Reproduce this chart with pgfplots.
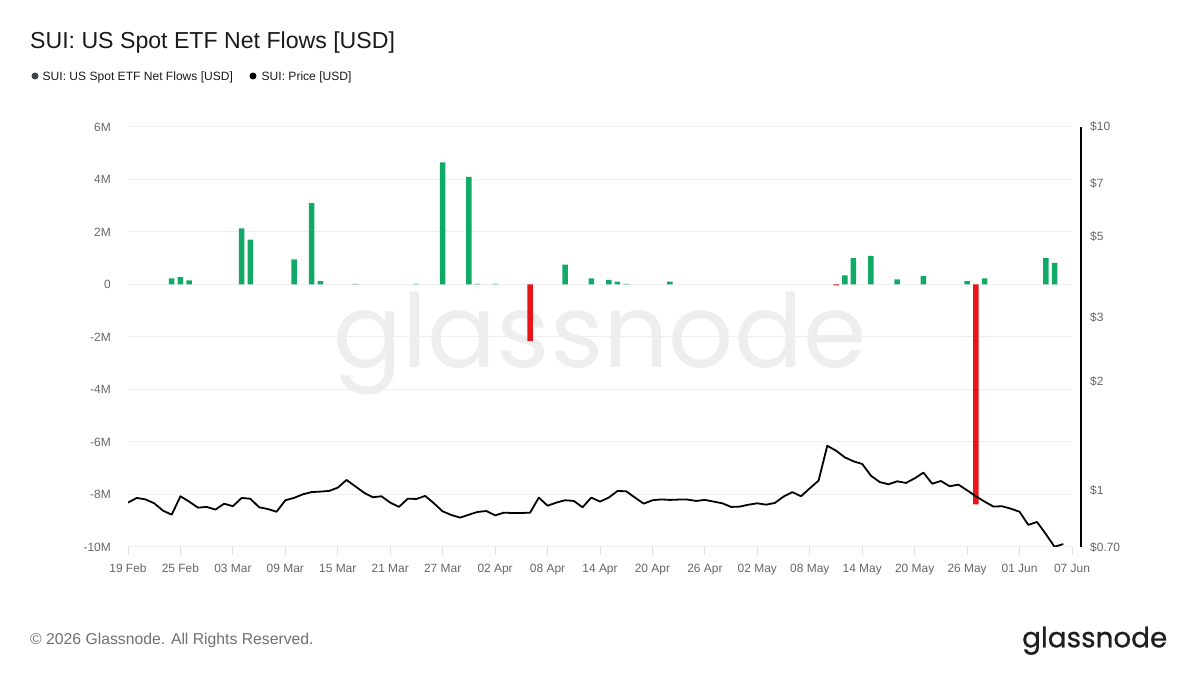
\documentclass[border=0pt]{standalone}
\usepackage{pgfplots}
\pgfplotsset{compat=1.18}
\usepackage{fontspec}
\setmainfont{Liberation Sans}
\newfontfamily\popfont{Poppins}
\newfontfamily\poplogo{Poppins}[FakeBold=0.8]
\definecolor{flowgreen}{RGB}{16,170,102}
\definecolor{flowred}{RGB}{232,20,24}
\definecolor{lblgray}{RGB}{102,102,102}
\definecolor{gridc}{RGB}{238,238,238}
\definecolor{tickc}{RGB}{222,222,222}
\definecolor{wmark}{RGB}{238,238,238}
\definecolor{dotgray}{RGB}{60,66,78}
\definecolor{titlec}{RGB}{26,26,26}
\definecolor{footc}{RGB}{112,112,112}
\definecolor{logoc}{RGB}{30,30,30}
\begin{document}
\begin{tikzpicture}[x=1bp,y=1bp]
\path[use as bounding box] (0,0) rectangle (1200,675);
% watermark
\node[anchor=base, inner sep=0pt, text=wmark] at (600,307) {\resizebox{532bp}{!}{\popfont glassnode}};
% title
\node[anchor=base west, inner sep=0pt, text=titlec] at (30,626.7) {\fontsize{23.2}{28}\selectfont SUI: US Spot ETF Net Flows [USD]};
% legend
\fill[dotgray] (35,599) circle (3.5);
\node[anchor=base west, inner sep=0pt, text=titlec] at (42.5,594.8) {\fontsize{12.1}{14}\selectfont SUI: US Spot ETF Net Flows [USD]};
\fill[black] (253,599) circle (3.5);
\node[anchor=base west, inner sep=0pt, text=titlec] at (261.5,594.8) {\fontsize{12.1}{14}\selectfont SUI: Price [USD]};
% footer
\node[anchor=base west, inner sep=0pt, text=footc] at (30,30.5) {\fontsize{15.8}{18}\selectfont \textcopyright{} 2026 Glassnode. All Rights Reserved.};
\node[anchor=base west, inner sep=0pt, text=logoc] at (1022,27.7) {\resizebox{145bp}{!}{\poplogo glassnode}};

\begin{axis}[
  at={(128bp,128bp)}, anchor=south west,
  width=944bp, height=420bp, scale only axis,
  xmin=0, xmax=108, ymin=-10, ymax=6,
  axis line style={draw=none},
  ymajorgrids, grid style={gridc, line width=1bp},
  ytick={-10,-8,-6,-4,-2,0,2,4,6},
  yticklabels={-10M,-8M,-6M,-4M,-2M,0,2M,4M,6M},
  xtick={0,6,...,108},
  xticklabels={19 Feb,25 Feb,03 Mar,09 Mar,15 Mar,21 Mar,27 Mar,02 Apr,08 Apr,14 Apr,20 Apr,26 Apr,02 May,08 May,14 May,20 May,26 May,01 Jun,07 Jun},
  xtick pos=bottom, xtick align=outside,
  major tick length=8bp,
  x tick style={tickc, line width=1bp},
  y tick style={draw=none},
  tick label style={font=\fontsize{12}{14}\selectfont, text=lblgray},
  yticklabel style={inner sep=0pt, xshift=-17bp},
  xticklabel style={inner sep=0pt, yshift=-9bp},
]
\addplot[ybar, bar width=5.5bp, bar shift=0pt, fill=flowgreen, draw=none] coordinates {
(5,0.23) (6,0.28) (7,0.16) (13,2.14) (14,1.71) (19,0.96) (21,3.1) (22,0.13)
(26,0.02) (33,0.02) (36,4.65) (39,4.1) (40,0.02) (42,0.02) (50,0.76) (53,0.23)
(55,0.18) (56,0.11) (57,0.02) (62,0.11) (82,0.35) (83,1.0) (85,1.09) (88,0.19)
(91,0.33) (96,0.13) (98,0.23) (105,1.0) (106,0.82)
};
\addplot[ybar, bar width=5.5bp, bar shift=0pt, fill=flowred, draw=none] coordinates {
(46,-2.15) (81,-0.03) (97,-8.38)
};
\end{axis}

\begin{axis}[
  at={(128bp,128bp)}, anchor=south west,
  width=944bp, height=420bp, scale only axis,
  xmin=0, xmax=108, ymode=log, ymin=0.7, ymax=10,
  axis x line=none, axis y line*=right,
  y axis line style={black, line width=1.8bp, xshift=9bp},
  ytick={0.7,1,2,3,5,7,10},
  yticklabels={\$0.70,\$1,\$2,\$3,\$5,\$7,\$10},
  minor ytick={},
  tick style={draw=none},
  tick label style={font=\fontsize{12}{14}\selectfont, text=lblgray},
  yticklabel style={anchor=west, inner sep=0pt, xshift=18bp},
]
\addplot[black, line width=1.8bp, line join=round] coordinates {
(0,0.927) (1,0.955) (2,0.946) (3,0.923) (4,0.881) (5,0.859) (6,0.965) (7,0.933)
(8,0.898) (9,0.902) (10,0.887) (11,0.921) (12,0.906) (13,0.955) (14,0.950) (15,0.900)
(16,0.890) (17,0.875) (18,0.941) (19,0.955) (20,0.977) (21,0.991) (22,0.994) (23,0.998)
(24,1.019) (25,1.070) (26,1.028) (27,0.987) (28,0.959) (29,0.965) (30,0.927) (31,0.902)
(32,0.950) (33,0.949) (34,0.967) (35,0.923) (36,0.877) (37,0.857) (38,0.843) (39,0.859)
(40,0.874) (41,0.879) (42,0.855) (43,0.870) (44,0.868) (45,0.868) (46,0.870) (47,0.957)
(48,0.909) (49,0.927) (50,0.941) (51,0.937) (52,0.900) (53,0.957) (54,0.933) (55,0.957)
(56,0.998) (57,0.996) (58,0.957) (59,0.921) (60,0.941) (61,0.946) (62,0.943) (63,0.945)
(64,0.945) (65,0.937) (66,0.943) (67,0.933) (68,0.923) (69,0.902) (70,0.904) (71,0.915)
(72,0.923) (73,0.915) (74,0.925) (75,0.963) (76,0.991) (77,0.965) (78,1.015) (79,1.065)
(80,1.329) (81,1.288) (82,1.235) (83,1.204) (84,1.184) (85,1.099) (86,1.056) (87,1.041)
(88,1.061) (89,1.050) (90,1.081) (91,1.121) (92,1.045) (93,1.063) (94,1.028) (95,1.039)
(96,1.002) (97,0.965) (98,0.933) (99,0.904) (100,0.906) (101,0.892) (102,0.875) (103,0.805)
(104,0.820) (105,0.760) (106,0.701) (107,0.713)
};
\end{axis}
\end{tikzpicture}
\end{document}
